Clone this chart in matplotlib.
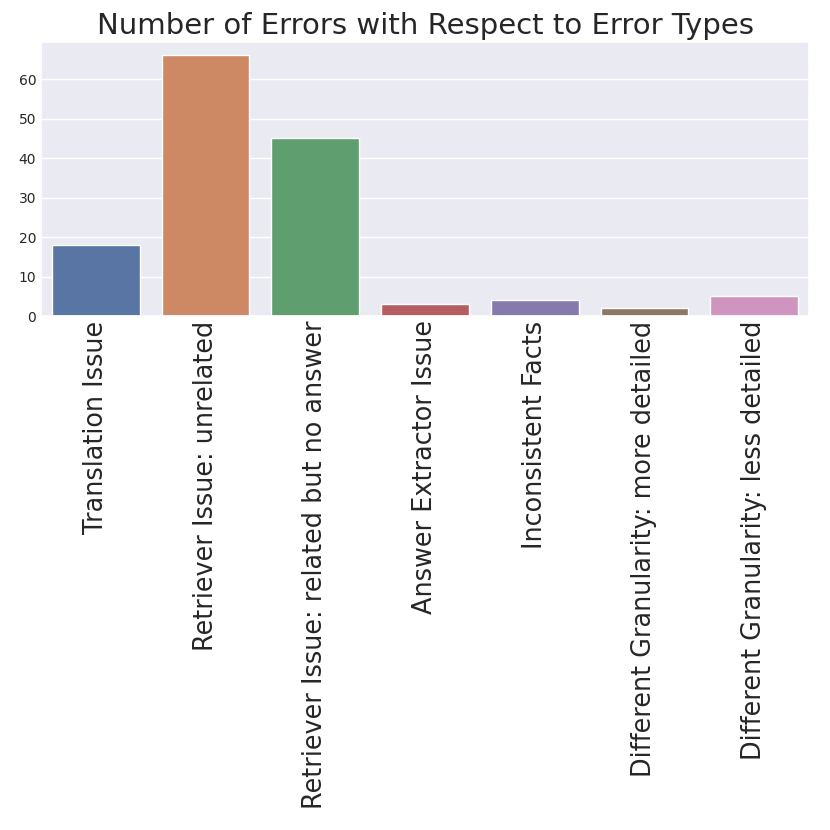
import matplotlib
matplotlib.use("Agg")
import matplotlib.pyplot as plt
import seaborn as sns

categories = [
    "Translation Issue",
    "Retriever Issue: unrelated",
    "Retriever Issue: related but no answer",
    "Answer Extractor Issue",
    "Inconsistent Facts",
    "Different Granularity: more detailed",
    "Different Granularity: less detailed",
]
counts = [18, 66, 45, 3, 4, 2, 5]
title = "Number of Errors with Respect to Error Types"

sns.set_theme(style="darkgrid")
plt.rcParams['font.family'] = ['DejaVu Sans']

fig = plt.figure(figsize=(8.3, 8.3), dpi=100)
ax = fig.add_axes([0.0494, 0.619, 0.9253, 0.330])
sns.barplot(x=categories, y=counts, hue=categories, palette="deep",
            saturation=0.75, legend=False, ax=ax)
ax.set_title(title, fontsize=21)
ax.set_xticks(range(len(categories)))
ax.set_xticklabels(categories, rotation=90, fontsize=18.4)
ax.tick_params(axis='x', length=0, pad=3)
ax.tick_params(axis='y', length=0, labelsize=10)
ax.set_xlabel("")
ax.set_ylabel("")
fig.savefig("out.png", dpi=100)
